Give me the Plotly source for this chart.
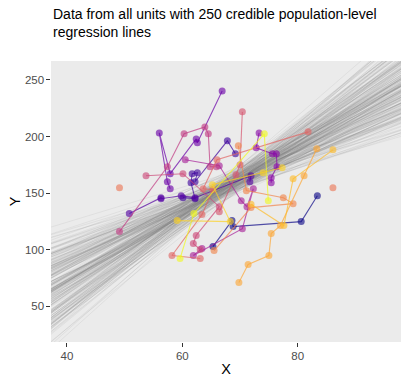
import plotly.graph_objects as go

# ---------------- data ----------------
# population-level regression lines: value at x = 69 and slope
line_x0 = 69
line_c = [
158.3,163.1,155.7,161.9,166.4,152.8,159.6,164.2,157.1,160.8,
169.5,154.2,161.3,158.9,149.7,163.8,156.4,160.1,167.2,155.9,
162.6,157.8,153.5,165.1,159.2,171.3,156.8,161.7,150.9,163.4,
158.7,166.9,154.8,160.4,157.3,162.2,148.6,164.7,159.9,155.2,
161.1,168.3,153.9,157.6,163.9,160.6,151.8,165.8,158.1,162.9,
156.1,159.4,170.2,154.6,161.5,157.9,166.1,152.3,160.3,164.5,
158.5,155.4,162.8,167.7,150.2,159.8,163.2,156.9,161.8,154.1,
165.4,157.4,160.9,152.6,164.1,158.2,169.1,155.6,162.4,159.1,
153.2,161.6,166.7,157.2,160.5,147.9,163.6,158.8,155.3,164.9,
159.3,162.1,154.4,168.8,156.6,161.2,151.4,165.3,158.4,160.7,
163.7,155.1,159.7,166.2,153.6,160.2,157.5,172.1,156.2,162.3,
158.6,164.8,152.1,161.4,157.7,167.4,155.8,160.0,163.3,150.6,
159.5,156.3,165.6,153.8,162.7,158.0,169.8,154.9,161.0,157.0,
164.3,151.1,160.6,158.4,166.5,155.5,162.5,149.3,163.0,159.0,
156.7,167.9,154.0,161.6,157.9,164.0,152.9,160.3,170.7,155.0,
162.0,158.1,153.3,165.9,159.4,161.8,156.0,168.0,154.3,160.9,
157.2,163.5,150.4,162.9,158.9,166.8,155.3,161.4,153.0,164.6,
159.8,156.5,167.5,152.4,160.4,163.6,157.6,171.0,154.7,161.2,
158.0,165.2,155.6,162.1,148.9,159.6,164.4,156.4,160.6,153.7,
166.0,157.3,161.9,154.5,163.1,158.7,150.8,167.1,159.1,155.4,
162.8,160.1,152.7,165.5,157.8,169.3,154.6,161.5,158.3,163.9,
155.9,159.9,164.1,151.6,162.6,157.0,166.3,153.4,160.8,158.5,
161.3,168.6,155.2,159.2,163.8,150.0,157.4,165.0,156.8,162.2,
154.2,160.5,167.0,158.8,152.5,164.3,159.7,156.1,170.4,161.1,
157.5,163.3,153.1,160.2,165.7,155.7,162.4,158.6,149.5,164.7]
line_b = [
2.78,3.52,2.21,3.05,3.86,1.93,2.94,3.31,2.43,4.02,
2.67,3.41,2.05,2.99,3.71,2.52,1.62,3.18,4.21,2.36,
2.96,3.60,2.14,2.75,3.29,2.41,3.94,1.78,3.01,3.44,
2.58,3.79,2.27,2.86,4.38,2.49,3.12,1.99,3.03,3.63,
2.31,3.35,2.63,1.47,3.91,2.90,2.38,3.54,2.72,4.06,
2.12,3.24,2.56,3.77,2.35,2.98,3.47,1.85,4.55,2.83,
3.38,2.24,3.00,3.84,2.47,1.71,3.15,2.74,3.69,2.29,
2.95,4.13,2.08,3.22,2.61,3.57,1.55,3.06,3.96,2.54,
2.80,3.43,2.18,3.75,2.91,2.39,4.09,2.01,3.10,2.66,
3.61,2.26,2.97,3.36,1.89,3.89,2.69,2.45,3.50,3.04,
2.10,3.81,2.82,3.17,1.66,3.00,4.17,2.53,3.46,2.32,
3.08,2.04,3.66,2.73,4.02,2.42,2.92,3.27,1.80,3.55,
2.60,3.92,2.19,3.01,3.39,1.96,4.42,2.70,3.07,2.37,
3.73,2.50,1.58,3.20,2.88,3.58,2.16,4.11,2.62,3.03,
2.07,3.34,2.79,3.83,2.28,3.13,1.74,2.93,3.98,2.48,
3.49,2.33,3.02,4.26,2.59,1.91,3.30,2.85,3.64,2.20,
2.94,3.78,2.13,3.09,2.64,4.08,2.40,1.52,3.40,2.84,
3.16,2.29,3.87,2.55,2.90,3.53,2.02,3.70,2.81,2.44,
3.04,3.95,2.23,2.67,3.37,1.83,4.22,2.96,2.50,3.61,
2.71,3.47,2.06,4.00,2.54,3.00,3.76,1.68,3.19,2.89,
2.38,3.67,2.63,3.05,4.59,2.17,2.97,3.42,1.95,3.86,
2.86,2.41,3.58,2.72,3.23,2.11,4.15,2.57,3.09,2.99,
3.40,1.90,2.93,3.92,2.45,3.51,2.26,3.03,3.81,2.68,
2.15,3.13,2.82,3.69,1.76,4.31,2.60,2.95,3.33,2.37,
3.00,3.48,2.04,3.96,2.76,3.18,2.51,3.74,2.87,2.25]

# units: x values, y values, colour
unit_colors = ["#0D0887","#3E049C","#5402A3","#6A00A8","#8707A6","#A62098",
               "#C03A83","#CC4778","#D5546E","#E16462","#EB7655","#EB7655",
               "#F1844B","#FCA636","#FEBC2A","#F0F921","#FCD225"]
unit_x = [
 [65.3,68.6,68.8,80.6,83.4],
 [60.1,62.2,61.5,61.7,62.6,62.2,67.8,69.2],
 [50.8,56.3,56.3,59.8,62.2,71.9,71.7],
 [57.9,57.4,56.0,57.9,62.4,62.6,66.9],
 [73.3,72.8,75.6,76.3,76.4,75.4,75.4],
 [60.5,66.4,70.2,71.2,72.3,70.4,61.9,63.4],
 [49.1,57.4,60.3,63.9,64.5,64.8,65.9],
 [53.7,60.1,66.4,62.4,61.9,63.1],
 [70.4,70.0,69.3,66.4],
 [81.8,66.0,63.6,65.3,63.4,58.2,63.1],
 [49.1],
 [86.1],
 [69.7,71.1,77.5,79.2,71.9,65.5],
 [83.3,81.1,77.0,75.4,75.0,71.4,69.8],
 [86.1,79.2,77.6,71.9],
 [59.6,62.0,74.2,74.9],
 [59.1,68.3,65.2,74.0,77.3],
]
unit_y = [
 [102.6,125.6,120.3,124.7,147.6],
 [145.9,145.0,159.1,167.1,167.9,160.0,196.2,184.7],
 [131.8,145.9,145.0,147.6,145.9,165.3,160.0],
 [153.8,160.0,203.2,167.1,197.9,194.4,240.3],
 [203.2,190.0,184.7,184.7,173.2,163.5,159.1],
 [179.4,174.1,143.2,137.9,153.8,118.5,94.7,100.9],
 [115.9,173.2,202.4,208.5,202.4,173.2,173.2],
 [165.3,167.1,137.9,112.4,105.3,100.0],
 [221.8,175.0,166.2,133.5],
 [204.1,179.4,153.8,152.9,130.9,94.7,92.1],
 [154.7],
 [154.7],
 [191.8,152.1,145.9,140.6,137.1,99.1],
 [189.1,165.3,121.2,114.1,94.7,86.8,70.9],
 [188.2,162.6,121.2,140.0],
 [92.1,131.8,202.4,143.2],
 [125.6,124.7,157.4,167.9,172.4],
]

x_range = [37.23, 97.9]
y_range = [18.2, 266.8]
x_ticks = [40, 60, 80]
y_ticks = [50, 100, 150, 200, 250]

W, H = 408, 384
ML, MR, MT, MB = 51, 7, 61, 42
PH = H - MT - MB


def rgba(h, a):
    h = h.lstrip("#")
    return "rgba(%d,%d,%d,%.2f)" % (int(h[0:2], 16), int(h[2:4], 16), int(h[4:6], 16), a)


fig = go.Figure()

for c, b in zip(line_c, line_b):
    xs = [x_range[0], x_range[1]]
    ys = [c + b * (x - line_x0) for x in xs]
    fig.add_trace(go.Scatter(x=xs, y=ys, mode="lines",
                             line=dict(color="rgba(127,127,127,0.15)", width=0.75),
                             hoverinfo="skip", showlegend=False))

for xs, ys, col in zip(unit_x, unit_y, unit_colors):
    fig.add_trace(go.Scatter(x=xs, y=ys, mode="lines+markers",
                             line=dict(color=rgba(col, 0.7), width=1.1),
                             marker=dict(color=rgba(col, 0.62), size=7, line=dict(width=0)),
                             showlegend=False))

fig.add_annotation(
    text="Data from all units with 250 credible population-level<br>regression lines",
    xref="paper", yref="paper", x=0, y=(PH + MT - 4) / PH,
    xanchor="left", yanchor="top", align="left", showarrow=False,
    font=dict(size=14, color="#000000"))

fig.update_layout(
    width=W, height=H,
    margin=dict(l=ML, r=MR, t=MT, b=MB, autoexpand=False),
    paper_bgcolor="white", plot_bgcolor="#EBEBEB",
    font=dict(family="Liberation Sans, Arial, sans-serif", color="#000000"),
)
fig.update_xaxes(range=x_range, tickvals=x_ticks, showgrid=False, zeroline=False,
                 automargin=False,
                 ticks="outside", ticklen=3.6, tickcolor="#333333", tickwidth=1,
                 tickfont=dict(size=11.5, color="#4D4D4D"),
                 title=dict(text="X", font=dict(size=14.5, color="#000000"), standoff=2))
fig.update_yaxes(range=y_range, tickvals=y_ticks, showgrid=False, zeroline=False,
                 automargin=False,
                 ticks="outside", ticklen=3.6, tickcolor="#333333", tickwidth=1,
                 tickfont=dict(size=11.5, color="#4D4D4D"),
                 title=dict(text="Y", font=dict(size=14.5, color="#000000"), standoff=0))

fig.write_html("out.html", config={"displayModeBar": False},
               post_script="document.body.style.margin='0px';")
